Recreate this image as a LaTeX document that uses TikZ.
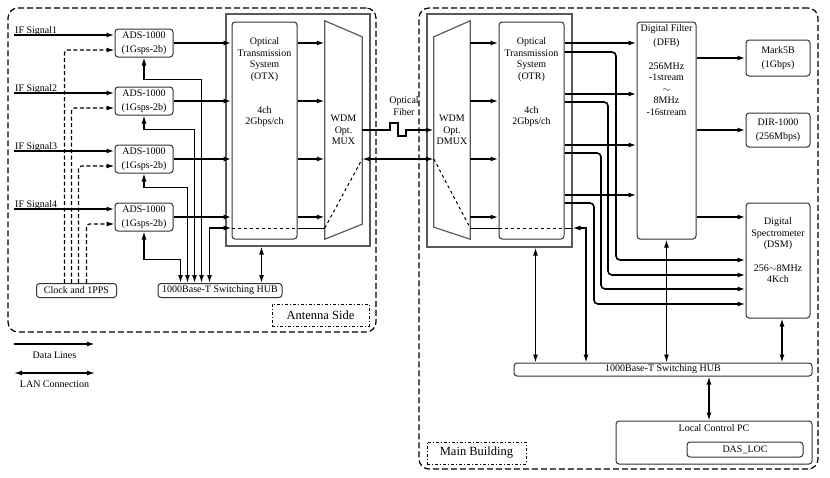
\documentclass[tikz,border=0pt]{standalone}
\usepackage{fontspec}
\setmainfont{Liberation Serif}
\usetikzlibrary{arrows.meta,positioning,calc}

\tikzset{
  blk/.style={draw=black!80, rounded corners=3pt, line width=1pt, inner sep=0pt,
    font=\fontsize{10}{14}\selectfont, align=center},
  encl/.style={draw=black!65, line width=1.2pt, inner sep=0pt},
  txt/.style={font=\fontsize{10}{11.5}\selectfont, align=center, inner sep=0pt},
  data/.style={line width=1.6pt, -{Latex[length=8pt,width=5pt]}},
  lan/.style={line width=1.3pt, {Latex[length=8pt,width=5pt]}-{Latex[length=8pt,width=5pt]}},
  wire/.style={line width=1pt},
  clkline/.style={line width=1.3pt, dash pattern=on 4pt off 2.5pt, rounded corners=3pt,
    -{Latex[length=8pt,width=5pt]}},
  site/.style={draw, line width=1.2pt, dash pattern=on 6pt off 3pt, rounded corners=10pt, inner sep=0pt},
  sitelbl/.style={draw, line width=1pt, dash pattern=on 3pt off 2pt on 1pt off 2pt,
    minimum height=22pt, inner sep=0pt, font=\fontsize{12.5}{14}\selectfont},
}

\begin{document}
\begin{tikzpicture}[x=1pt, y=-1pt]
    \useasboundingbox (0,0) rectangle (830,477);

    % antenna side
    \node [site, minimum width=368pt, minimum height=324pt] (ant) at (192,170) {};
    \node [sitelbl, minimum width=97pt] (antlbl) at (320.5,315) {Antenna Side};

    \foreach \i/\y in {1/43,2/101,3/159,4/217} {
        \coordinate (ch\i) at (0,\y);
        \node [blk, minimum width=58pt, minimum height=28pt] (ads\i) at (144,\y) {ADS-1000\\(1Gsps-2b)};
        \coordinate (if\i) at (14,\y-8);
        \node [txt, anchor=base west] (iflbl\i) at ($(if\i)+(1,-2)$) {IF Signal\i};
        \draw [data] (if\i) -- (if\i -| ads\i.west);
    }

    \node [blk, minimum width=80pt, minimum height=14pt] (clk) at (76.5,290.5) {Clock and 1PPS};
    \node [blk, minimum width=124pt, minimum height=14pt] (hub1) at (220,290.5) {1000Base-T Switching HUB};

    \foreach \i/\dx in {1/28.5,2/35.5,3/42.5,4/50.5}
        \draw [clkline] ($(clk.north west)+(\dx,0)$) |- ($(ads\i.west)+(0,7)$);

    \foreach \i/\dy/\dx in {1/22/44,2/14/37,3/14/30,4/28/23}
        \draw [lan] (ads\i.south) -- ++(0,\dy) -| ($(hub1.north west)+(\dx,0)$);

    \node [encl, minimum width=144pt, minimum height=232pt] (txbox) at (298,130) {};
    \node [blk, minimum width=65pt, minimum height=217pt] (otx) at (264.5,130.5) {};
    \node [txt, anchor=north] (otxtxt) at ($(otx.north)+(0,16)$)
        {Optical\\Transmission\\System\\(OTX)\\[22.5pt]4ch\\2Gbps/ch};

    \node [txt, minimum width=37pt, minimum height=218pt] (mux) at (343.5,130) {WDM\\Opt.\\MUX};
    \draw [encl] (mux.north west) -- ($(mux.north east)+(0,16)$) -- ($(mux.south east)+(0,-15)$)
        -- (mux.south west) -- cycle;

    \foreach \i in {1,...,4} {
        \draw [data] (ads\i.east) -- (ads\i.east -| otx.west);
        \draw [data] (ads\i.east -| otx.east) -- (ads\i.east -| mux.west);
    }

    \draw [lan] ($(otx.south |- txbox.south)+(-3,0)$) -- ($(otx.south |- hub1.north)+(-3,0)$);

    % control line over the fiber
    \coordinate (ctl) at (0,228);
    \draw [lan] ($(hub1.north west)+(52,0)$) |- (otx.west |- ctl);
    \draw [wire, dashed] (otx.west |- ctl) -- (otx.east |- ctl);
    \draw [wire] (otx.east |- ctl) -- (mux.west |- ctl);
    \draw [wire, dashed] (mux.west |- ctl) -- (mux.east |- ch3);

    % optical fiber
    \node [txt] (fiber) at (404,106) {Optical\\Fiber};

    % main building
    \node [site, minimum width=399pt, minimum height=461pt] (mainb) at (618.5,238.5) {};
    \node [sitelbl, minimum width=99pt] (mainlbl) at (476.5,453) {Main Building};

    \node [encl, minimum width=145pt, minimum height=233pt] (rxbox) at (499.5,130.5) {};
    \node [txt, minimum width=36pt, minimum height=218pt] (dmux) at (452,130) {WDM\\Opt.\\DMUX};
    \draw [encl] ($(dmux.north west)+(0,16)$) -- (dmux.north east) -- (dmux.south east)
        -- ($(dmux.south west)+(0,-12)$) -- cycle;
    \node [blk, minimum width=65pt, minimum height=217pt] (otr) at (531.5,130.5) {};
    \node [txt, anchor=north] (otrtxt) at ($(otr.north)+(0,16)$)
        {Optical\\Transmission\\System\\(OTR)\\[22.5pt]4ch\\2Gbps/ch};

    \draw [data] (mux.east) -- ++(28,0) -- ++(0,-7) -- ++(8,0) -- ++(0,13) -- ++(8,0) -- ++(0,-6) -- (dmux.west);
    \draw [lan] (mux.east |- ch3) -- (dmux.west |- ch3);

    \foreach \i in {1,...,4}
        \draw [data] (dmux.east |- ch\i) -- (otr.west |- ch\i);

    \draw [wire, dashed] (dmux.west |- ch3) -- (dmux.east |- ctl);
    \draw [wire] (dmux.east |- ctl) -- (otr.west |- ctl);
    \draw [wire, dashed] (otr.west |- ctl) -- (otr.east |- ctl);
    \draw [wire] (otr.east |- ctl) -- (rxbox.east |- ctl);

    \node [blk, minimum width=59pt, minimum height=217pt] (dfb) at (666.5,130.5) {};
    \node [txt, anchor=north] (dfbtxt) at ($(dfb.north)+(0,2.5)$)
        {Digital Filter\\[2.5pt](DFB)\\[12.5pt]256MHz\\-1stream\\$\sim$\\8MHz\\-16stream};

    \node [blk, minimum width=64pt, minimum height=36pt] (mark5b) at (778,58) {Mark5B\\(1Gbps)};
    \node [blk, minimum width=64pt, minimum height=34pt] (dir) at (778,130) {DIR-1000\\(256Mbps)};
    \node [blk, minimum width=64pt, minimum height=115pt] (dsm) at (778,260.5) {};
    \node [txt, anchor=north] (dsmtxt) at ($(dsm.north)+(0,15)$)
        {Digital\\Spectrometer\\(DSM)\\[12pt]256$\sim$8MHz\\4Kch};

    \coordinate (dsmin) at (0,217);
    \draw [data] (dfb.east |- mark5b.west) -- (mark5b.west);
    \draw [data] (dfb.east |- dir.west) -- (dir.west);
    \draw [data] (dfb.east |- dsmin) -- (dsm.west |- dsmin);

    \foreach \i/\a/\b/\xv/\yd in {1/43/52/616/260,2/94/102/608/275,3/145/153/601/289,4/195/203/594/304} {
        \coordinate (ta\i) at (0,\a);
        \coordinate (tb\i) at (0,\b);
        \coordinate (td\i) at (\xv,\yd);
        \draw [data] (otr.east |- ta\i) -- (dfb.west |- ta\i);
        \draw [data, rounded corners=4pt] (otr.east |- tb\i) -| (td\i) -- (dsm.west |- td\i);
    }

    \node [blk, minimum width=298pt, minimum height=13pt] (hub2) at (663,369.5) {1000Base-T Switching HUB};
    \coordinate (ctlR) at (586,228);
    \draw [lan] (rxbox.east |- ctl) -- (ctlR) -- (ctlR |- hub2.north);
    \draw [lan] ($(otr.south |- rxbox.south)+(4,0)$) -- ($(otr.south |- hub2.north)+(4,0)$);
    \draw [lan] (dfb.south) -- (dfb.south |- hub2.north);
    \draw [lan] ($(dsm.south)+(4,0)$) -- ($(dsm.south |- hub2.north)+(4,0)$);

    \node [blk, minimum width=196pt, minimum height=43pt] (pc) at (714,442.5) {};
    \node [txt, anchor=north] (pctxt) at ($(pc.north)+(0,4)$) {Local Control PC};
    \node [blk, minimum width=116pt, minimum height=15pt] (dasloc) at (745,449.5) {DAS\_LOC};
    \draw [lan] ($(hub2.south -| pc.north)+(-5,0)$) -- ($(pc.north)+(-5,0)$);

    % legend
    \coordinate (dl0) at (14,344);
    \coordinate (dl1) at (95,344);
    \coordinate (ln0) at (14,373);
    \coordinate (ln1) at (95,373);
    \draw [data] (dl0) -- (dl1) node [txt, midway, below=7pt] (dltxt) {Data Lines};
    \draw [lan] (ln0) -- (ln1) node [txt, midway, below=7pt] (lntxt) {LAN Connection};
\end{tikzpicture}
\end{document}
